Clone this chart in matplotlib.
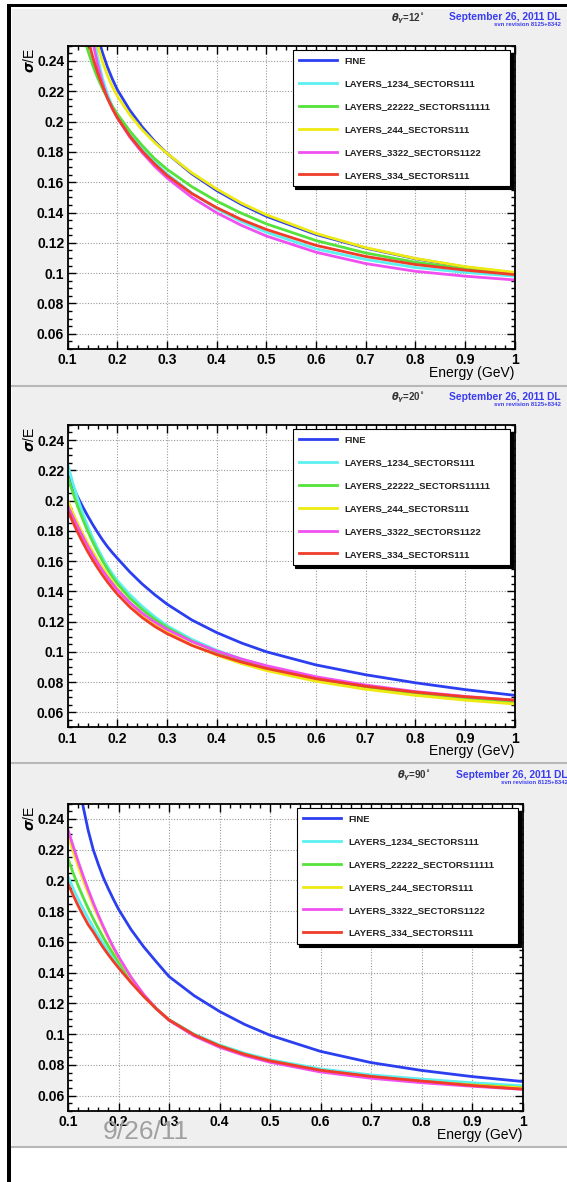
import matplotlib
matplotlib.use("Agg")
import matplotlib.pyplot as plt
from matplotlib.patches import Rectangle
from matplotlib.lines import Line2D
from matplotlib.ticker import FixedLocator, MultipleLocator

plt.rcParams["font.family"] = ["Liberation Sans", "DejaVu Sans"]
plt.rcParams["font.weight"] = "bold"

# ---- data ----
energy = [0.10, 0.11, 0.12, 0.13, 0.14, 0.15, 0.16, 0.17, 0.18, 0.19, 0.20, 0.225,
          0.25, 0.275, 0.30, 0.35, 0.40, 0.45, 0.50, 0.60, 0.70, 0.80, 0.90, 1.00]

labels = ["FINE", "LAYERS_1234_SECTORS111", "LAYERS_22222_SECTORS11111",
          "LAYERS_244_SECTORS111", "LAYERS_3322_SECTORS1122", "LAYERS_334_SECTORS111"]
colors = ["#2b3ff0", "#5cf0f0", "#55e23c", "#eeea12", "#f050f0", "#f03c28"]

angles = [12, 20, 90]

# theta = 12 deg
fine_12 = [0.400, 0.360, 0.330, 0.306, 0.287, 0.271, 0.257, 0.2455, 0.236, 0.228, 0.221, 0.2075,
           0.1965, 0.187, 0.179, 0.1655, 0.1545, 0.1453, 0.1375, 0.1255, 0.1165, 0.1095, 0.104, 0.100]
l1234_12 = [0.425, 0.380, 0.342, 0.310, 0.283, 0.2605, 0.2425, 0.2285, 0.218, 0.210, 0.2035, 0.1918,
            0.182, 0.1733, 0.1655, 0.1528, 0.1425, 0.134, 0.127, 0.116, 0.109, 0.1037, 0.1005, 0.098]
l22222_12 = [0.325, 0.298, 0.277, 0.2605, 0.2475, 0.2375, 0.229, 0.2218, 0.2155, 0.210, 0.205, 0.1938,
             0.1842, 0.1755, 0.1685, 0.157, 0.1475, 0.1395, 0.1325, 0.1215, 0.1133, 0.1072, 0.1027, 0.0995]
l244_12 = [0.405, 0.365, 0.332, 0.305, 0.283, 0.265, 0.2505, 0.2395, 0.2305, 0.223, 0.2168, 0.2045,
           0.1945, 0.1862, 0.179, 0.1662, 0.1555, 0.1462, 0.1385, 0.1262, 0.1168, 0.1097, 0.1043, 0.1005]
l3322_12 = [0.400, 0.360, 0.326, 0.297, 0.273, 0.2535, 0.238, 0.2255, 0.2155, 0.2085, 0.2025, 0.1898,
            0.1795, 0.1705, 0.1628, 0.150, 0.1398, 0.1315, 0.1245, 0.1138, 0.1063, 0.1012, 0.098, 0.0955]
l334_12 = [0.345, 0.315, 0.290, 0.271, 0.2555, 0.243, 0.2325, 0.2235, 0.2155, 0.2085, 0.2025, 0.1905,
           0.1805, 0.172, 0.1645, 0.1525, 0.1432, 0.1353, 0.1288, 0.1183, 0.111, 0.1057, 0.102, 0.099]

# theta = 20 deg
fine_20 = [0.217, 0.2095, 0.2025, 0.196, 0.190, 0.1843, 0.179, 0.174, 0.1695, 0.1655, 0.1618, 0.1528,
           0.1448, 0.1378, 0.1315, 0.121, 0.1127, 0.1058, 0.100, 0.0913, 0.0848, 0.0795, 0.075, 0.0712]
l1234_20 = [0.224, 0.2118, 0.2013, 0.1918, 0.1832, 0.1755, 0.1685, 0.1622, 0.1565, 0.1515, 0.147, 0.1378,
            0.130, 0.1232, 0.1172, 0.1082, 0.101, 0.0952, 0.0905, 0.0828, 0.0772, 0.073, 0.0697, 0.067]
l22222_20 = [0.216, 0.2055, 0.1962, 0.1878, 0.180, 0.1728, 0.1662, 0.1602, 0.1546, 0.1495, 0.145, 0.1355,
             0.128, 0.1215, 0.116, 0.107, 0.100, 0.0945, 0.090, 0.0822, 0.0766, 0.0723, 0.069, 0.0665]
l244_20 = [0.200, 0.1922, 0.185, 0.1782, 0.172, 0.1662, 0.1608, 0.1557, 0.1508, 0.1462, 0.1418, 0.1322,
           0.1245, 0.1182, 0.113, 0.1045, 0.0978, 0.0922, 0.0876, 0.0805, 0.0752, 0.0712, 0.068, 0.0655]
l3322_20 = [0.1965, 0.1895, 0.1828, 0.1762, 0.170, 0.1642, 0.1588, 0.1538, 0.1492, 0.145, 0.141, 0.1325,
            0.1255, 0.1197, 0.1148, 0.1068, 0.1005, 0.0952, 0.0908, 0.0835, 0.078, 0.0737, 0.0705, 0.068]
l334_20 = [0.1935, 0.186, 0.179, 0.1725, 0.1664, 0.1608, 0.1556, 0.1507, 0.1462, 0.142, 0.1381, 0.1296,
           0.1226, 0.1168, 0.112, 0.1042, 0.0982, 0.0932, 0.089, 0.0822, 0.0772, 0.0733, 0.0703, 0.068]

# theta = 90 deg
fine_90 = [0.318, 0.290, 0.267, 0.248, 0.2325, 0.220, 0.2105, 0.2018, 0.1945, 0.1877, 0.1813, 0.168,
           0.1568, 0.147, 0.1375, 0.125, 0.1148, 0.1063, 0.0993, 0.0888, 0.0815, 0.0764, 0.0724, 0.0692]
l1234_90 = [0.2025, 0.195, 0.188, 0.1815, 0.1753, 0.1695, 0.164, 0.1588, 0.1538, 0.149, 0.1446, 0.1343,
            0.125, 0.1165, 0.1095, 0.100, 0.093, 0.0876, 0.0834, 0.0774, 0.0735, 0.0708, 0.0684, 0.0664]
l22222_90 = [0.214, 0.205, 0.1967, 0.189, 0.1818, 0.1751, 0.1688, 0.1628, 0.1572, 0.152, 0.147, 0.1355,
             0.125, 0.1163, 0.1092, 0.0995, 0.0923, 0.0868, 0.0826, 0.0763, 0.0722, 0.0693, 0.067, 0.0652]
l244_90 = [0.2295, 0.219, 0.2093, 0.2002, 0.1917, 0.1837, 0.1762, 0.169, 0.1622, 0.1558, 0.1498, 0.1365,
           0.1255, 0.1165, 0.1092, 0.0992, 0.092, 0.0866, 0.0824, 0.0761, 0.072, 0.0691, 0.0668, 0.065]
l3322_90 = [0.233, 0.2225, 0.2125, 0.203, 0.194, 0.1855, 0.1775, 0.170, 0.163, 0.1565, 0.1505, 0.137,
            0.1258, 0.1165, 0.109, 0.0988, 0.0915, 0.086, 0.0817, 0.0754, 0.0713, 0.0684, 0.0661, 0.0641]
l334_90 = [0.198, 0.1905, 0.1836, 0.1772, 0.1712, 0.1665, 0.1612, 0.1562, 0.1516, 0.1473, 0.1432, 0.1335,
           0.1245, 0.1165, 0.1093, 0.0995, 0.0923, 0.0868, 0.0826, 0.0765, 0.0725, 0.0695, 0.0666, 0.0642]

panel_series = [
    [fine_12, l1234_12, l22222_12, l244_12, l3322_12, l334_12],
    [fine_20, l1234_20, l22222_20, l244_20, l3322_20, l334_20],
    [fine_90, l1234_90, l22222_90, l244_90, l3322_90, l334_90],
]

xticks = [0.1, 0.2, 0.3, 0.4, 0.5, 0.6, 0.7, 0.8, 0.9, 1.0]
yticks = [0.06, 0.08, 0.10, 0.12, 0.14, 0.16, 0.18, 0.20, 0.22, 0.24]

date_text = "September 26, 2011 DL"
svn_text = "svn revision 8125+8342"

# ---- layout (pixels from top-left) ----
W, H = 567, 1182
fig = plt.figure(figsize=(W / 100, H / 100), dpi=100)


def fx(x):
    return x / W


def fy(y):
    return 1 - y / H


# page background, borders and panel separators
fig.patches.append(Rectangle((fx(12), fy(1147)), fx(W) - fx(12), (1147 - 9) / H,
                             transform=fig.transFigure, facecolor="#efefef", edgecolor="none", zorder=-10))
fig.patches.append(Rectangle((fx(7), 0), 3.5 / W, fy(4), transform=fig.transFigure,
                             facecolor="black", edgecolor="none", zorder=-5))
fig.patches.append(Rectangle((fx(7), fy(7)), 1, 3 / H, transform=fig.transFigure,
                             facecolor="black", edgecolor="none", zorder=-5))
for ysep in [386, 763, 1147]:
    fig.add_artist(Line2D([fx(12), 1], [fy(ysep), fy(ysep)], color="#b8b8b8", lw=1.5, zorder=-4))

# axes boxes: left, right, top, bottom
boxes = [(67.7, 514.7, 45.8, 348.9), (67.7, 514.7, 424.9, 727.4), (68, 522.5, 803.6, 1111)]
# header positions: theta x, header y, date right edge
headers = [(408, 18.5, 561), (408, 398, 561), (414, 776, 568)]

for i, (l, r, t, b) in enumerate(boxes):
    ax = fig.add_axes([fx(l), fy(b), (r - l) / W, (b - t) / H])
    ax.set_facecolor("white")

    for series, lab, col in zip(panel_series[i], labels, colors):
        ax.plot(energy, series, color=col, lw=2.0, label=lab)

    ax.set_xlim(0.1, 1.0)
    ax.set_ylim(0.05, 0.25)
    ax.xaxis.set_major_locator(FixedLocator(xticks))
    ax.yaxis.set_major_locator(FixedLocator(yticks))
    ax.set_xticklabels(["{:g}".format(v) for v in xticks])
    ax.set_yticklabels(["{:g}".format(v) for v in yticks])
    ax.xaxis.set_minor_locator(MultipleLocator(0.02))
    ax.yaxis.set_minor_locator(MultipleLocator(0.005))
    ax.tick_params(which="both", direction="in", top=True, right=True, width=1.0, labelsize=10)
    ax.tick_params(which="major", length=6)
    ax.tick_params(which="minor", length=3)
    ax.tick_params(axis="x", pad=3)
    ax.tick_params(axis="y", pad=2.5)
    for sp in ax.spines.values():
        sp.set_linewidth(1.3)
    ax.grid(True, which="major", color="#9a9a9a", lw=0.8, linestyle=(0, (1, 1.5)))
    ax.set_axisbelow(True)

    ax.set_xlabel("Energy (GeV)", loc="right", fontsize=10)
    ax.xaxis.set_label_coords(1.0, -0.055)
    ax.set_ylabel(r"$\sigma$/E", loc="top", fontsize=10)
    ax.yaxis.set_label_coords(-0.069, 0.993)

    leg = ax.legend(loc="upper left", bbox_to_anchor=(0.503, 0.5, 0.487, 0.486), mode="expand",
                    borderaxespad=0, prop={"family": "Liberation Sans", "weight": "bold", "size": 6.8},
                    labelcolor="#222222", handlelength=4.0, handletextpad=0.8, borderpad=0.7,
                    labelspacing=1.46, fancybox=False, framealpha=1,
                    shadow={"color": "black", "alpha": 1})
    leg.get_frame().set_edgecolor("black")
    leg.get_frame().set_linewidth(0.8)
    for h in leg.get_lines():
        h.set_linewidth(2.0)

    tx, ty, dr = headers[i]
    fig.text(fx(tx), fy(ty), r"$\theta_{\gamma}$=" + str(angles[i]) + r"$^{\circ}$",
             fontsize=7, color="#333333", ha="center", va="center")
    fig.text(fx(dr), fy(ty - 1), date_text, fontsize=7.4, color="#3a3cf0",
             ha="right", va="center")
    fig.text(fx(dr), fy(ty + 6.5), svn_text, fontsize=4.3, color="#3a3cf0",
             ha="right", va="center")

fig.text(fx(146), fy(1132), "9/26/11", fontsize=19, fontweight="normal",
         color="#a0a0a0", ha="center", va="center")

fig.savefig("out.png", dpi=100, facecolor="white")
